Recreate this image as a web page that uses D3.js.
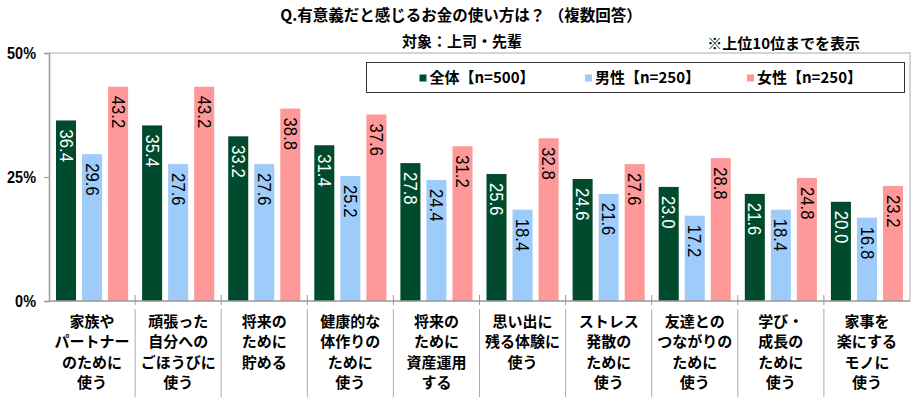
<!DOCTYPE html>
<html>
<head>
<meta charset="utf-8">
<script src="https://cdn.jsdelivr.net/npm/d3@7"></script>
<style>
body { margin: 0; background: #fff; }
svg { display: block; }
.jp { font-family: "Noto Sans CJK JP", "Noto Sans", sans-serif; font-weight: bold; }
.num { font-family: "Liberation Sans", Arial, sans-serif; }
</style>
</head>
<body>
<svg id="chart" width="920" height="397"></svg>
<script>
var categories = [
  ["家族や", "パートナー", "のために", "使う"],
  ["頑張った", "自分への", "ごほうびに", "使う"],
  ["将来の", "ために", "貯める"],
  ["健康的な", "体作りの", "ために", "使う"],
  ["将来の", "ために", "資産運用", "する"],
  ["思い出に", "残る体験に", "使う"],
  ["ストレス", "発散の", "ために", "使う"],
  ["友達との", "つながりの", "ために", "使う"],
  ["学び・", "成長の", "ために", "使う"],
  ["家事を", "楽にする", "モノに", "使う"]
];
var seriesNames = ["全体【n=500】", "男性【n=250】", "女性【n=250】"];
var allValues = [36.4, 35.4, 33.2, 31.4, 27.8, 25.6, 24.6, 23.0, 21.6, 20.0];
var maleValues = [29.6, 27.6, 27.6, 25.2, 24.4, 18.4, 21.6, 17.2, 18.4, 16.8];
var femaleValues = [43.2, 43.2, 38.8, 37.6, 31.2, 32.8, 27.6, 28.8, 24.8, 23.2];
var yTicks = [0, 25, 50];

var colors = ["#004b2e", "#9dcbfa", "#ff9898"];
var labelColors = ["#fff", "#000", "#000"];

var svg = d3.select("#chart");
var pLeft = 49, pRight = 910, pTop = 53, pBottom = 301;

var x = d3.scaleBand().domain(d3.range(categories.length)).range([pLeft, pRight]).padding(0);
var xs = d3.scaleBand().domain(d3.range(3)).range([7, x.bandwidth() - 7]).paddingInner(6 / 26).paddingOuter(0);
var y = d3.scaleLinear().domain([0, 50]).range([pBottom, pTop]);

var series = [allValues, maleValues, femaleValues];

// titles
svg.append("text").attr("class", "jp").attr("x", 461).attr("y", 21)
  .attr("text-anchor", "middle").style("font-size", "15.5px")
  .text("Q.有意義だと感じるお金の使い方は？ （複数回答）");
svg.append("text").attr("class", "jp").attr("x", 462).attr("y", 47)
  .attr("text-anchor", "middle").style("font-size", "15px")
  .text("対象：上司・先輩");
svg.append("text").attr("class", "jp").attr("x", 860).attr("y", 49)
  .attr("text-anchor", "end").style("font-size", "15px")
  .text("※上位10位までを表示");

// frame (top + right light grey)
svg.append("path")
  .attr("d", "M" + pLeft + "," + pTop + "H" + pRight + "V" + pBottom)
  .attr("fill", "none").attr("stroke", "#c8c8c8").attr("stroke-width", 1.5);

// y axis
var yAxis = svg.append("g").attr("transform", "translate(" + pLeft + ",0)")
  .call(d3.axisLeft(y).tickValues(yTicks).tickSize(5).tickFormat(""));
yAxis.select(".domain").attr("stroke", "#999").attr("stroke-width", 1.5);
yAxis.selectAll(".tick line").attr("stroke", "#999");

yTicks.forEach(function(t) {
  svg.append("text").attr("class", "num")
    .attr("transform", "translate(36," + (y(t) + 6) + ") scale(0.85,1)")
    .attr("text-anchor", "end").style("font-size", "17px").style("font-weight", "bold")
    .text(t + "%");
});

// bars
var groups = svg.selectAll(".grp").data(categories).enter().append("g")
  .attr("transform", function(d, i) { return "translate(" + x(i) + ",0)"; });

series.forEach(function(vals, s) {
  groups.append("rect")
    .attr("x", xs(s))
    .attr("y", function(d, i) { return y(vals[i]); })
    .attr("width", xs.bandwidth())
    .attr("height", function(d, i) { return y(0) - y(vals[i]); })
    .attr("fill", colors[s]);
  groups.append("text").attr("class", "num")
    .attr("transform", function(d, i) {
      return "translate(" + (xs(s) + xs.bandwidth() / 2) + "," + (y(vals[i]) + 9) + ") rotate(90) scale(0.88,1)";
    })
    .attr("dominant-baseline", "central")
    .attr("text-anchor", "start")
    .style("font-size", "19px")
    .attr("fill", labelColors[s])
    .text(function(d, i) { return vals[i].toFixed(1); });
});

// x axis
svg.append("line").attr("x1", pLeft).attr("x2", pRight).attr("y1", pBottom).attr("y2", pBottom)
  .attr("stroke", "#999").attr("stroke-width", 1.5);
d3.range(1, categories.length).forEach(function(i) {
  var xx = x(i);
  svg.append("line").attr("x1", xx).attr("x2", xx).attr("y1", 295).attr("y2", 305)
    .attr("stroke", "#999");
  svg.append("line").attr("x1", xx).attr("x2", xx).attr("y1", 309).attr("y2", 397)
    .attr("stroke", "#aaa");
});

// category labels
groups.each(function(d, i) {
  var t = d3.select(this).append("text").attr("class", "jp")
    .attr("text-anchor", "middle").style("font-size", "15px");
  d.forEach(function(line, k) {
    t.append("tspan").attr("x", x.bandwidth() / 2).attr("y", 327 + k * 20.3).text(line);
  });
});

// legend
svg.append("rect").attr("x", 366.5).attr("y", 62.5).attr("width", 538).attr("height", 30)
  .attr("fill", "#fff").attr("stroke", "#333");
var legendX = [419.5, 585, 747];
seriesNames.forEach(function(n, s) {
  svg.append("rect").attr("x", legendX[s]).attr("y", 74.5).attr("width", 7).attr("height", 7)
    .attr("fill", colors[s]);
  svg.append("text").attr("class", "jp").attr("x", legendX[s] + 10).attr("y", 83)
    .style("font-size", "15px").text(n);
});
</script>
</body>
</html>
